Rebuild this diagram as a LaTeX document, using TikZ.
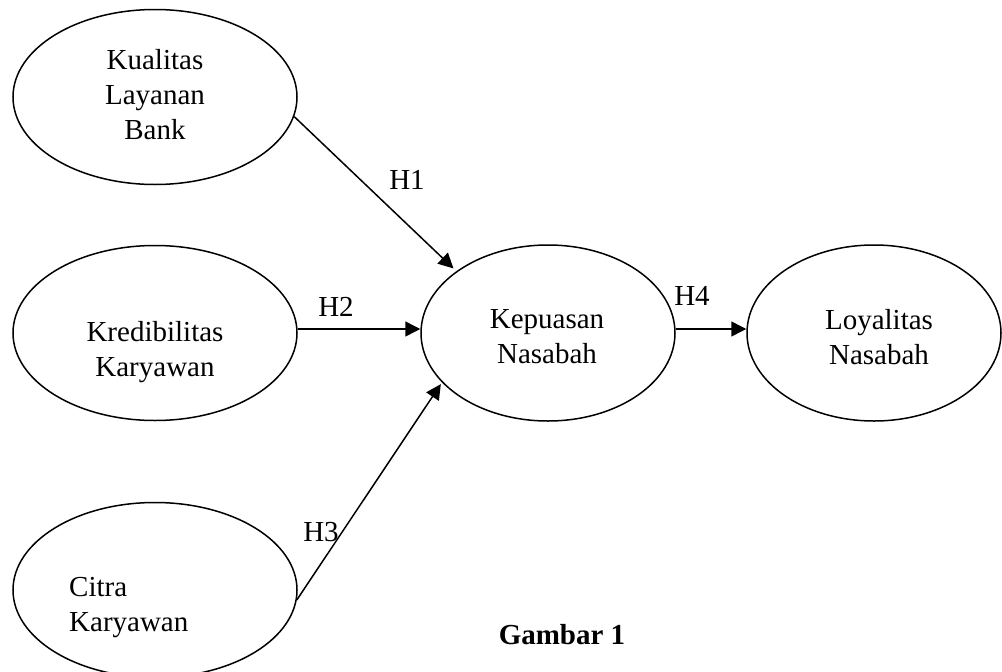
\documentclass[tikz,border=0pt]{standalone}
\usepackage{fontspec}
\setmainfont{Liberation Serif}
\usetikzlibrary{shapes.geometric,arrows.meta}
\begin{document}
\begin{tikzpicture}[x=1pt,y=-1pt,
  oval/.style={draw, ellipse, line width=1.5pt, inner sep=0pt, minimum width=284pt, minimum height=175pt},
  ovalb/.style={oval, minimum width=254pt, minimum height=176pt},
  lbl/.style={font=\fontsize{29}{35}\selectfont, align=center, inner sep=0pt},
  hlbl/.style={font=\fontsize{29}{35}\selectfont, inner sep=0pt},
  conn/.style={line width=1.5pt, -{Triangle[length=15pt,width=15pt]}}]
\useasboundingbox (0,0) rectangle (1002,672);
% ellipses
\node[oval] (k1) at (155,97) {};
\node[oval] (k2) at (155,333) {};
\node[oval] (k3) at (155,590) {};
\node[ovalb] (kep) at (548,333) {};
\node[ovalb] (loy) at (874,333) {};
% texts
\node[lbl] (t1) at (155,95) {Kualitas\\Layanan\\Bank};
\node[lbl] (t2) at (155,352) {Kredibilitas\\Karyawan};
\node[lbl, align=left, anchor=west] (t3) at (69,608) {Citra\\Karyawan};
\node[lbl] (t4) at (547,337) {Kepuasan\\Nasabah};
\node[lbl] (t5) at (879,337) {Loyalitas\\Nasabah};
% connectors
\draw[conn, shorten >=4pt] (k1.-8) -- (kep.146);
\draw[conn] ([yshift=4pt]k2.east) -- ([yshift=4pt]kep.west);
\draw[conn, shorten >=2pt] (k3.-4) -- (kep.205);
\draw[conn] ([yshift=4pt]kep.east) -- ([yshift=4pt]loy.west);
% hypothesis labels
\node[hlbl] (h1) at (407,180) {H1};
\node[hlbl] (h2) at (336,307) {H2};
\node[hlbl] (h3) at (321,532) {H3};
\node[hlbl] (h4) at (692,296) {H4};
% caption
\node[hlbl, font=\fontsize{29}{35}\selectfont\bfseries] (cap) at (562,635) {Gambar 1};
\end{tikzpicture}
\end{document}
